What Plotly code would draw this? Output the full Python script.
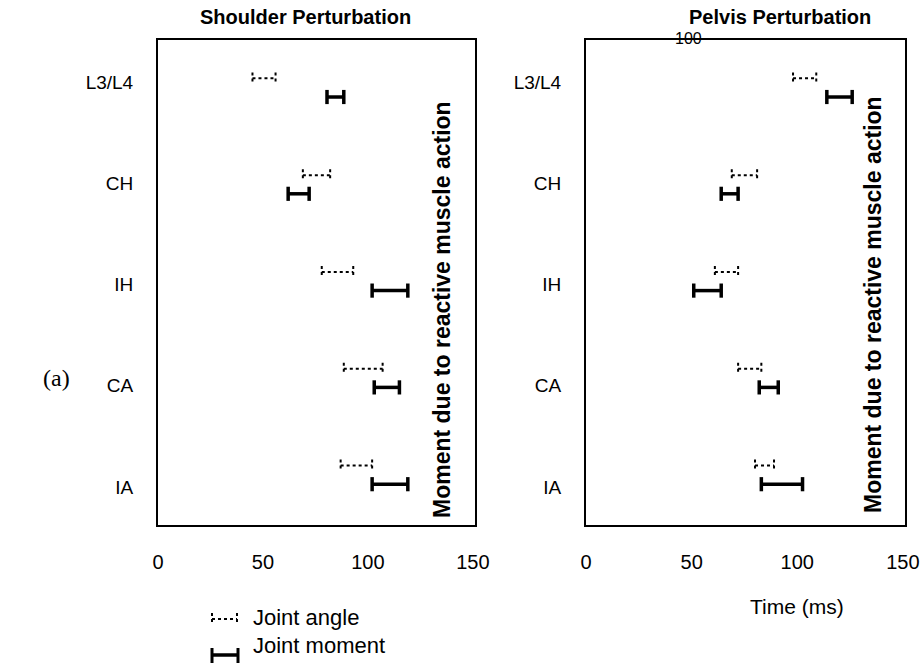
import plotly.graph_objects as go

# ---------------- data (ms) ----------------
categories = ["L3/L4", "CH", "IH", "CA", "IA"]

shoulder_angle_start = [45, 69, 78, 88.5, 87]
shoulder_angle_end = [56, 82, 93, 107, 102]
shoulder_moment_start = [80.5, 62, 102, 103, 102]
shoulder_moment_end = [88.5, 72, 119, 115, 119]

pelvis_angle_start = [98, 69, 61, 72, 80]
pelvis_angle_end = [109, 81, 72, 83, 89]
pelvis_moment_start = [114, 64, 51, 82, 83]
pelvis_moment_end = [126, 72, 64, 91, 102.5]

x_ticks = [0, 50, 100, 150]
panel_titles = ["Shoulder Perturbation", "Pelvis Perturbation"]
side_label = "Moment due to reactive muscle action"
legend_labels = ["Joint angle", "Joint moment"]

# ---------------- layout helpers ----------------
W, H = 924, 666
FONT = "Liberation Sans, Arial, sans-serif"


def px(x):
    return x / W


def py(y):
    return 1 - y / H


row_idx = list(range(len(categories)))
bar_centers = [0.056 + 0.956 * i for i in row_idx]
half_gap = 0.092
angle_y = [c - half_gap for c in bar_centers]
moment_y = [c + half_gap for c in bar_centers]


def interval_trace(starts, ends, ys, half_cap, width, dash, xa, ya):
    xs, yy = [], []
    for s, e, y in zip(starts, ends, ys):
        xs += [s, e, None, s, s, None, e, e, None]
        yy += [y, y, None, y - half_cap, y + half_cap, None, y - half_cap, y + half_cap, None]
    return go.Scatter(x=xs, y=yy, mode="lines", xaxis=xa, yaxis=ya,
                      line=dict(color="black", width=width, dash=dash),
                      showlegend=False, hoverinfo="skip")


fig = go.Figure()
panels = [
    ("x", "y", shoulder_angle_start, shoulder_angle_end, shoulder_moment_start, shoulder_moment_end),
    ("x2", "y2", pelvis_angle_start, pelvis_angle_end, pelvis_moment_start, pelvis_moment_end),
]
for xa, ya, a_s, a_e, m_s, m_e in panels:
    fig.add_trace(interval_trace(a_s, a_e, angle_y, 0.059, 2, "dot", xa, ya))
    fig.add_trace(interval_trace(m_s, m_e, moment_y, 0.07, 3.5, "solid", xa, ya))

xaxis_common = dict(range=[0, 151], tickvals=x_ticks, ticktext=[str(t) for t in x_ticks],
                    showgrid=False, zeroline=False, showline=True, linecolor="black",
                    linewidth=2, mirror=True, ticks="outside", ticklen=18, automargin=False,
                    tickcolor="rgba(0,0,0,0)", tickfont=dict(family=FONT, size=20, color="black"))
yaxis_common = dict(range=[4.375, -0.415], tickvals=row_idx, ticktext=categories,
                    showgrid=False, zeroline=False, showline=True, linecolor="black",
                    linewidth=2, mirror=True, ticks="outside", ticklen=19, automargin=False,
                    tickcolor="rgba(0,0,0,0)", tickfont=dict(family=FONT, size=19, color="black"))

y_dom = [py(525), py(40)]
fig.update_layout(
    width=W, height=H,
    margin=dict(l=0, r=0, t=0, b=0, autoexpand=False),
    paper_bgcolor="white", plot_bgcolor="white",
    showlegend=False,
    xaxis=dict(domain=[px(158), px(475)], anchor="y", **xaxis_common),
    yaxis=dict(domain=y_dom, anchor="x", **yaxis_common),
    xaxis2=dict(domain=[px(586), px(905)], anchor="y2", **xaxis_common),
    yaxis2=dict(domain=y_dom, anchor="x2", **yaxis_common),
)

ann = []
# panel titles
ann.append(dict(text="<b>%s</b>" % panel_titles[0], x=px(305), y=py(17), xref="paper", yref="paper",
                showarrow=False, xanchor="center", yanchor="middle",
                font=dict(family=FONT, size=20, color="black")))
ann.append(dict(text="<b>%s</b>" % panel_titles[1], x=px(780), y=py(17), xref="paper", yref="paper",
                showarrow=False, xanchor="center", yanchor="middle",
                font=dict(family=FONT, size=20, color="black")))
# stray "100" label overlapping the right frame
ann.append(dict(text="100", x=px(688), y=py(38), xref="paper", yref="paper",
                showarrow=False, xanchor="center", yanchor="middle",
                font=dict(family=FONT, size=16, color="black")))
# rotated side labels
for cx, cy in [(442, 310), (873, 305)]:
    ann.append(dict(text="<b>%s</b>" % side_label, x=px(cx), y=py(cy), xref="paper", yref="paper",
                    showarrow=False, textangle=-90, xanchor="center", yanchor="middle",
                    font=dict(family=FONT, size=23, color="black")))
# (a)
ann.append(dict(text="(a)", x=px(56), y=py(378), xref="paper", yref="paper",
                showarrow=False, xanchor="center", yanchor="middle",
                font=dict(family="Liberation Serif, Times New Roman, serif", size=24, color="black")))
# x-axis title
ann.append(dict(text="Time (ms)", x=px(797), y=py(606), xref="paper", yref="paper",
                showarrow=False, xanchor="center", yanchor="middle",
                font=dict(family=FONT, size=21, color="black")))
# legend text
ann.append(dict(text=legend_labels[0], x=px(251), y=py(617), xref="paper", yref="paper",
                showarrow=False, xanchor="left", yanchor="middle",
                font=dict(family=FONT, size=22, color="black")))
ann.append(dict(text=legend_labels[1], x=px(251), y=py(645), xref="paper", yref="paper",
                showarrow=False, xanchor="left", yanchor="middle",
                font=dict(family=FONT, size=22, color="black")))
fig.update_layout(annotations=ann)

# legend symbols
shapes = []


def seg(x0, y0, x1, y1, width, dash):
    shapes.append(dict(type="line", xref="paper", yref="paper",
                       x0=px(x0), y0=py(y0), x1=px(x1), y1=py(y1),
                       line=dict(color="black", width=width, dash=dash)))


seg(212, 619, 237, 619, 2, "dot")
seg(212, 613, 212, 625, 2, "dot")
seg(237, 613, 237, 625, 2, "dot")
seg(212, 655, 238, 655, 3.5, "solid")
seg(212, 648, 212, 663, 3, "solid")
seg(238, 648, 238, 663, 3, "solid")
fig.update_layout(shapes=shapes)

fig.write_html("out.html")
